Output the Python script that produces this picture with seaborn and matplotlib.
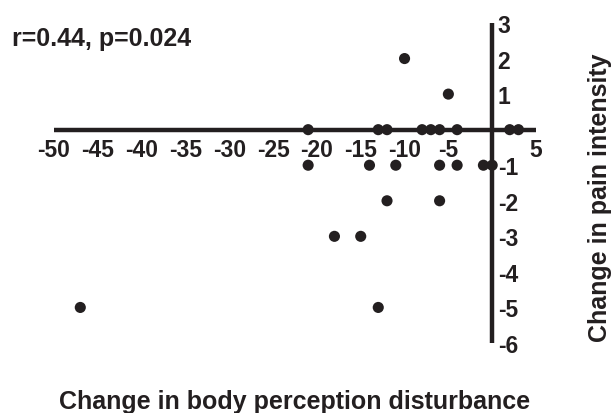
import pandas as pd
import matplotlib
matplotlib.use("Agg")
import matplotlib.pyplot as plt
import seaborn as sns

# change in body perception disturbance (x) vs change in pain intensity (y)
bpd_change = [-10, -5,
              -21, -13, -12, -8, -7, -6, -4, 2, 3,
              -21, -14, -11, -6, -4, -1, 0,
              -12, -6,
              -18, -15,
              -47, -13]
pain_change = [2, 1,
               0, 0, 0, 0, 0, 0, 0, 0, 0,
               -1, -1, -1, -1, -1, -1, -1,
               -2, -2,
               -3, -3,
               -5, -5]
x_ticks = [-50, -45, -40, -35, -30, -25, -20, -15, -10, -5, 5]
y_ticks = [-6, -5, -4, -3, -2, -1, 1, 2, 3]
stats_text = "r=0.44, p=0.024"

df = pd.DataFrame({"bpd": bpd_change, "pain": pain_change})

sns.set_style("white")
plt.rcParams["font.family"] = ["Liberation Sans", "DejaVu Sans"]
plt.rcParams["font.weight"] = "bold"

ink = "#231f20"
fig = plt.figure(figsize=(6.13, 4.14), dpi=100)
ax = fig.add_axes([54 / 613, 70 / 414, 482 / 613, 320 / 414])

sns.scatterplot(data=df, x="bpd", y="pain", ax=ax, color=ink, s=64,
                edgecolor="none", zorder=5, clip_on=False)

ax.set_xlim(-50, 5)
ax.set_ylim(-6, 3)

# axes cross at the origin
ax.spines["bottom"].set_position(("data", 0))
ax.spines["right"].set_position(("data", 0))
ax.spines["left"].set_visible(False)
ax.spines["top"].set_visible(False)
for s in ("bottom", "right"):
    ax.spines[s].set_linewidth(3.2)
    ax.spines[s].set_color(ink)
    ax.spines[s].set_capstyle("butt")
ax.yaxis.tick_right()

ax.set_xticks(x_ticks)
ax.set_xticklabels([str(v) for v in x_ticks])
ax.set_yticks(y_ticks)
ax.set_yticklabels([str(v) for v in y_ticks])
ax.tick_params(axis="x", length=0, pad=6, labelsize=16.5, labelcolor=ink)
ax.tick_params(axis="y", length=0, pad=4, labelsize=16.5, labelcolor=ink)
for lab in ax.get_xticklabels() + ax.get_yticklabels():
    lab.set_fontweight("bold")

ax.set_xlabel("")
ax.set_ylabel("")

fig.text(12 / 613, 1 - 39 / 414, stats_text, ha="left", va="center",
         fontsize=18, fontweight="bold", color=ink)
fig.text(295 / 613, 1 - 402 / 414, "Change in body perception disturbance",
         ha="center", va="center", fontsize=18, fontweight="bold", color=ink)
fig.text(600 / 613, 1 - 198 / 414, "Change in pain intensity", rotation=90,
         ha="center", va="center", fontsize=18, fontweight="bold", color=ink)

fig.savefig("out.png", dpi=100)
